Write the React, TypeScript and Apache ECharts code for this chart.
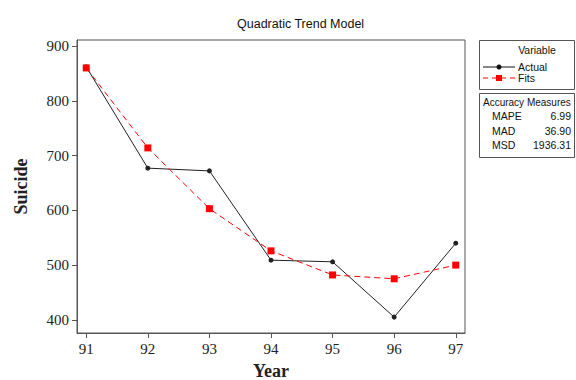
import React, { useEffect, useRef } from "react";
import * as echarts from "echarts";

const years = [91, 92, 93, 94, 95, 96, 97];
const actual = [862, 677, 672, 509, 506, 405, 540];
const fits = [860, 714, 603, 526, 482, 475, 500];
const yTicks = [400, 500, 600, 700, 800, 900];
const measureNames = ["MAPE", "MAD", "MSD"];
const measureValues = ["6.99", "36.90", "1936.31"];

export default function App() {
  const ref = useRef<HTMLDivElement>(null);
  useEffect(() => {
    const chart = echarts.init(ref.current!, null, { renderer: "svg" });
    const serif = "Liberation Serif";
    const sans = "Liberation Sans";
    const f = `10.5px "${sans}"`;
    const graphics: any[] = [
      { type: "rect", shape: { x: 479.5, y: 40.5, width: 95, height: 49 }, style: { fill: "#fff", stroke: "#555", lineWidth: 1 } },
      { type: "text", style: { x: 537, y: 50, text: "Variable", font: f, fill: "#111", align: "center", verticalAlign: "middle" } },
      { type: "line", shape: { x1: 483, y1: 67, x2: 515, y2: 67 }, style: { stroke: "#111", lineWidth: 1 } },
      { type: "circle", shape: { cx: 499, cy: 67, r: 2.5 }, style: { fill: "#111" } },
      { type: "text", style: { x: 518, y: 67, text: "Actual", font: f, fill: "#111", verticalAlign: "middle" } },
      { type: "line", shape: { x1: 483, y1: 78, x2: 515, y2: 78 }, style: { stroke: "#f00", lineWidth: 1, lineDash: [5, 4] } },
      { type: "rect", shape: { x: 496, y: 75, width: 6, height: 6 }, style: { fill: "#f00" } },
      { type: "text", style: { x: 518, y: 78, text: "Fits", font: f, fill: "#111", verticalAlign: "middle" } },
      { type: "rect", shape: { x: 479.5, y: 93.5, width: 95, height: 64 }, style: { fill: "#fff", stroke: "#555", lineWidth: 1 } },
      { type: "text", style: { x: 483, y: 102, text: "Accuracy Measures", font: `10px "${sans}"`, fill: "#111", verticalAlign: "middle" } },
    ];
    measureNames.forEach((n, i) => {
      const y = 116 + i * 14.5;
      graphics.push({ type: "text", style: { x: 492, y, text: n, font: f, fill: "#111", verticalAlign: "middle" } });
      graphics.push({ type: "text", style: { x: 571, y, text: measureValues[i], font: f, fill: "#111", align: "right", verticalAlign: "middle" } });
    });
    chart.setOption({
      animation: false,
      backgroundColor: "#fff",
      title: {
        text: "Quadratic Trend Model",
        left: 232,
        top: 12,
        textStyle: { fontFamily: sans, fontSize: 12.5, fontWeight: "normal", color: "#111" },
      },
      grid: {
        left: 77, right: 111, top: 40, bottom: 47,
        outerBoundsMode: "none",
        containLabel: false,
        show: true, borderColor: "#555", borderWidth: 1, backgroundColor: "#fff",
      },
      xAxis: {
        type: "value",
        min: 90.85,
        max: 97.15,
        name: "Year",
        nameLocation: "middle",
        nameGap: 29,
        nameTextStyle: { fontFamily: serif, fontSize: 18, fontWeight: "bold", color: "#222" },
        axisLine: { show: true, lineStyle: { color: "#555" } },
        axisTick: { show: true, customValues: years, length: 5, lineStyle: { color: "#555" } },
        axisLabel: { customValues: years, fontFamily: serif, fontSize: 15, color: "#222", margin: 8 },
        splitLine: { show: false },
      },
      yAxis: {
        type: "value",
        min: 376,
        max: 911,
        name: "Suicide",
        nameLocation: "middle",
        nameGap: 47,
        nameTextStyle: { fontFamily: serif, fontSize: 18, fontWeight: "bold", color: "#222" },
        axisLine: { show: true, lineStyle: { color: "#555" } },
        axisTick: { show: true, customValues: yTicks, length: 5, lineStyle: { color: "#555" } },
        axisLabel: { customValues: yTicks, fontFamily: serif, fontSize: 15, color: "#222", margin: 8 },
        splitLine: { show: false },
      },
      series: [
        {
          name: "Actual",
          type: "line",
          data: years.map((y, i) => [y, actual[i]]),
          symbol: "circle",
          symbolSize: 5,
          lineStyle: { color: "#222", width: 1 },
          itemStyle: { color: "#222" },
          z: 2,
        },
        {
          name: "Fits",
          type: "line",
          data: years.map((y, i) => [y, fits[i]]),
          symbol: "rect",
          symbolSize: 7,
          lineStyle: { color: "#f00", width: 1, type: [6, 4] },
          itemStyle: { color: "#f00" },
          z: 3,
        },
      ],
      graphic: graphics,
    });
    return () => chart.dispose();
  }, []);
  return <div ref={ref} style={{ position: "fixed", left: 0, top: 0, width: 576, height: 380 }} />;
}
